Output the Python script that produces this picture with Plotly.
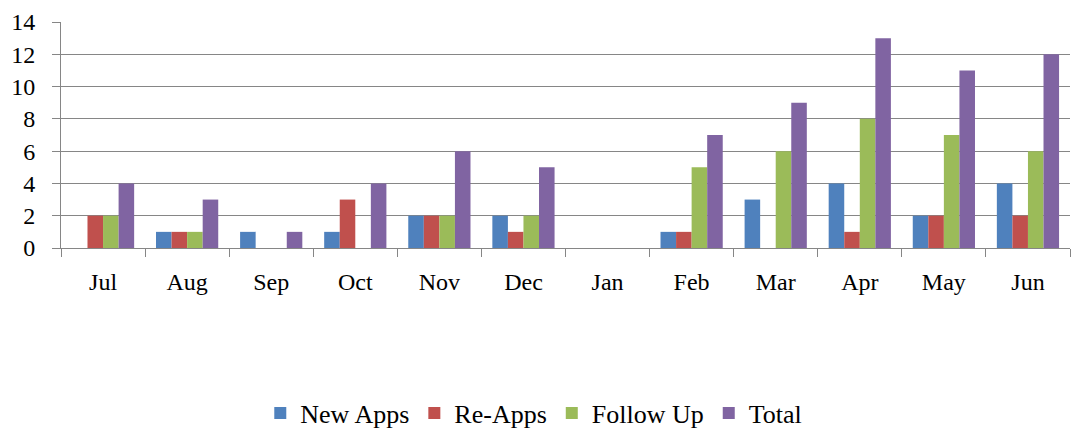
import plotly.graph_objects as go

months = ["Jul", "Aug", "Sep", "Oct", "Nov", "Dec", "Jan", "Feb", "Mar", "Apr", "May", "Jun"]
new_apps = [0, 1, 1, 1, 2, 2, 0, 1, 3, 4, 2, 4]
re_apps = [2, 1, 0, 3, 2, 1, 0, 1, 0, 1, 2, 2]
follow_up = [2, 1, 0, 0, 2, 2, 0, 5, 6, 8, 7, 6]
total = [4, 3, 1, 4, 6, 5, 0, 7, 9, 13, 11, 12]

series = [
    ("New Apps", new_apps, "#4F81BD"),
    ("Re-Apps", re_apps, "#C0504D"),
    ("Follow Up", follow_up, "#9BBB59"),
    ("Total", total, "#8064A2"),
]

fig = go.Figure()
for name, vals, color in series:
    fig.add_trace(go.Bar(x=months, y=vals, name=name, marker=dict(color=color, line=dict(width=0))))

font_family = "Liberation Serif"
fig.update_layout(
    width=1074, height=432,
    margin=dict(l=61, r=4, t=22, b=184),
    paper_bgcolor="white", plot_bgcolor="white",
    barmode="group", bargap=0.26, bargroupgap=0,
    font=dict(family=font_family, size=24, color="black"),
    showlegend=True,
    legend=dict(orientation="h", xref="container", yref="container",
                x=0.497, xanchor="center", y=0.044, yanchor="middle",
                font=dict(family=font_family, size=26, color="black"),
                itemsizing="constant", traceorder="normal"),
)
fig.update_xaxes(
    showline=True, linecolor="#868686", linewidth=1,
    ticks="outside", tickson="boundaries", ticklen=8, tickcolor="#868686",
    ticklabelstandoff=12, showgrid=False, tickfont=dict(size=24),
)
fig.update_yaxes(
    range=[0, 14], dtick=2, showline=True, linecolor="#868686", linewidth=1,
    ticks="outside", ticklen=8, tickcolor="#868686",
    showgrid=True, gridcolor="#868686", gridwidth=1, zeroline=False,
    ticklabelstandoff=12, tickfont=dict(size=24),
)
fig.write_html("out.html", config={"displayModeBar": False},
               post_script="document.body.style.margin='0';")
